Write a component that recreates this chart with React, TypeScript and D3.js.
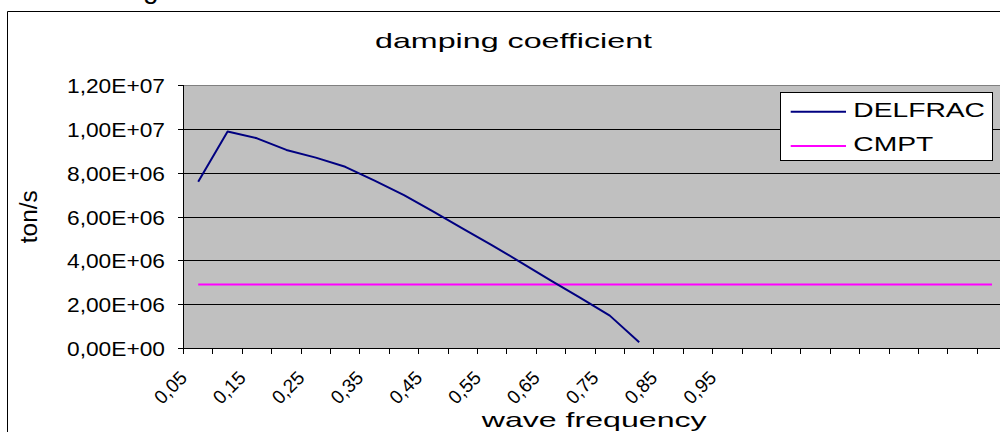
import React from "react";
import * as d3 from "d3";

const categories = [
  "0,05", "0,1", "0,15", "0,2", "0,25", "0,3", "0,35", "0,4", "0,45", "0,5",
  "0,55", "0,6", "0,65", "0,7", "0,75", "0,8", "0,85", "0,9", "0,95",
  "", "", "", "", "", "", "", "", "",
];

const delfrac = [
  7.61e6, 9.9e6, 9.59e6, 9.06e6, 8.71e6, 8.29e6, 7.66e6, 7.0e6, 6.24e6, 5.47e6,
  4.71e6, 3.91e6, 3.1e6, 2.31e6, 1.5e6, 0.29e6,
];

const cmpt = [
  2.92e6, 2.92e6, 2.92e6, 2.92e6, 2.92e6, 2.92e6, 2.92e6, 2.92e6, 2.92e6, 2.92e6,
  2.92e6, 2.92e6, 2.92e6, 2.92e6, 2.92e6, 2.92e6, 2.92e6, 2.92e6, 2.92e6, 2.92e6,
  2.92e6, 2.92e6, 2.92e6, 2.92e6, 2.92e6, 2.92e6, 2.92e6, 2.92e6,
];

const yTicks = [0, 2e6, 4e6, 6e6, 8e6, 1e7, 1.2e7];
const yTickLabels = [
  "0,00E+00", "2,00E+06", "4,00E+06", "6,00E+06", "8,00E+06", "1,00E+07", "1,20E+07",
];

const seriesNames = ["DELFRAC", "CMPT"];
const seriesColors = ["#000080", "#FF00FF"];

const FONT = "'Liberation Sans', Arial, sans-serif";

export default function App() {
  const left = 183.5;
  const top = 85.5;
  const bottom = 348.5;
  const idx = categories.map((_, i) => i);
  const x = d3.scaleBand<number>().domain(idx).range([left, left + 28 * 29.4]).padding(0);
  const y = d3.scaleLinear().domain([0, 1.2e7]).range([bottom, top]);
  const right = x.range()[1];
  const cx = (i: number) => (x(i) as number) + x.bandwidth() / 2;

  const line = d3
    .line<number>()
    .x((_, i) => cx(i))
    .y((d) => y(d));

  const boundaries = d3.range(categories.length + 1).map((i) => left + i * x.bandwidth());

  return (
    <svg
      width={1000}
      height={432}
      style={{ position: "absolute", left: 0, top: 0, background: "#fff" }}
      fontFamily={FONT}
    >
      {/* fragment of text above the chart */}
      <text x={143} y={-2} fontSize={28} fill="#000">g</text>

      {/* chart outer border */}
      <line x1={7.5} y1={11.5} x2={1000} y2={11.5} stroke="#000" />
      <line x1={7.5} y1={11.5} x2={7.5} y2={432} stroke="#000" />

      {/* title */}
      <text x={375} y={48} fontSize={21} textLength={277} lengthAdjust="spacingAndGlyphs" fill="#000">
        damping coefficient
      </text>

      {/* plot area */}
      <rect x={left} y={top} width={right - left} height={bottom - top} fill="#C0C0C0" stroke="#808080" shapeRendering="crispEdges" />

      {/* gridlines */}
      {yTicks.slice(1, -1).map((t) => (
        <line key={t} x1={left} x2={right} y1={y(t)} y2={y(t)} stroke="#000" shapeRendering="crispEdges" />
      ))}

      {/* axes */}
      <line x1={left} x2={left} y1={top} y2={bottom} stroke="#000" shapeRendering="crispEdges" />
      <line x1={left} x2={right} y1={bottom} y2={bottom} stroke="#000" shapeRendering="crispEdges" />

      {/* y ticks & labels */}
      {yTicks.map((t, i) => (
        <g key={t}>
          <line x1={left - 6} x2={left} y1={y(t)} y2={y(t)} stroke="#000" shapeRendering="crispEdges" />
          <text
            x={165}
            y={y(t) + 7.5}
            fontSize={19.5}
            textAnchor="end"
            textLength={98}
            lengthAdjust="spacingAndGlyphs"
            fill="#000"
          >
            {yTickLabels[i]}
          </text>
        </g>
      ))}

      {/* x ticks */}
      {boundaries.map((b, i) => (
        <line key={i} x1={b} x2={b} y1={bottom} y2={bottom + 5} stroke="#000" shapeRendering="crispEdges" />
      ))}

      {/* x labels */}
      {categories.map((c, i) =>
        i % 2 === 0 && c ? (
          <text
            key={i}
            x={cx(i) - 10}
            y={379}
            fontSize={19}
            textAnchor="end"
            transform={`rotate(-45 ${cx(i) - 10} 379)`}
            fill="#000"
          >
            {c}
          </text>
        ) : null
      )}

      {/* series */}
      <path d={line(cmpt) || ""} fill="none" stroke={seriesColors[1]} strokeWidth={2} />
      <path d={line(delfrac) || ""} fill="none" stroke={seriesColors[0]} strokeWidth={2} strokeLinejoin="round" />

      {/* axis titles */}
      <text
        x={37}
        y={216.7}
        fontSize={23}
        textAnchor="middle"
        textLength={53}
        lengthAdjust="spacingAndGlyphs"
        transform="rotate(-90 37 216.7)"
        fill="#000"
      >
        ton/s
      </text>
      <text x={481.7} y={427} fontSize={21} textLength={225} lengthAdjust="spacingAndGlyphs" fill="#000">
        wave frequency
      </text>

      {/* legend */}
      <rect x={780.5} y={92.5} width={212} height={68} fill="#fff" stroke="#000" shapeRendering="crispEdges" />
      <line x1={790.7} x2={846} y1={111.7} y2={111.7} stroke={seriesColors[0]} strokeWidth={2} />
      <line x1={790.7} x2={846} y1={146} y2={146} stroke={seriesColors[1]} strokeWidth={2} />
      <text x={853.3} y={116.7} fontSize={21} textLength={131.7} lengthAdjust="spacingAndGlyphs" fill="#000">
        {seriesNames[0]}
      </text>
      <text x={853.3} y={150.7} fontSize={21} textLength={80} lengthAdjust="spacingAndGlyphs" fill="#000">
        {seriesNames[1]}
      </text>
    </svg>
  );
}
